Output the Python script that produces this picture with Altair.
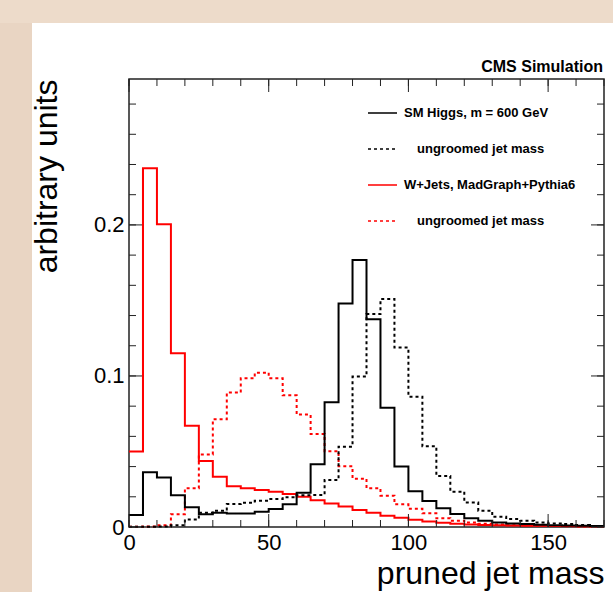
import altair as alt
import pandas as pd

# ---- data ----
bin_edges = [i * 5 for i in range(35)]  # 0..170, bin width 5

w_pruned = [0.050, 0.2375, 0.2005, 0.115, 0.067, 0.0437, 0.0333, 0.027, 0.0256, 0.0245,
            0.0234, 0.0219, 0.0201, 0.0177, 0.0155, 0.0135, 0.0113, 0.0095, 0.0075, 0.0062,
            0.0048, 0.0036, 0.0028, 0.0021, 0.0017, 0.0014, 0.0012, 0.0010, 0.0009, 0.0008,
            0.0007, 0.0006, 0.0005, 0.0005]
w_ungroomed = [0.0002, 0.0004, 0.0012, 0.0084, 0.0256, 0.048, 0.0713, 0.089, 0.0985, 0.1022,
               0.0985, 0.0872, 0.0744, 0.0616, 0.0502, 0.0402, 0.032, 0.0256, 0.0207, 0.015,
               0.0121, 0.0091, 0.0058, 0.0042, 0.0029, 0.0021, 0.0016, 0.0012, 0.0010, 0.0008,
               0.0006, 0.0005, 0.0004, 0.0003]
h_pruned = [0.008, 0.0362, 0.0327, 0.021, 0.013, 0.0084, 0.0095, 0.009, 0.009, 0.0101,
            0.0119, 0.0150, 0.0226, 0.0415, 0.0826, 0.148, 0.1768, 0.1375, 0.079, 0.040,
            0.0236, 0.0172, 0.0124, 0.0086, 0.0058, 0.0042, 0.0030, 0.0024, 0.0020, 0.0015,
            0.0012, 0.0010, 0.0008, 0.0006]
h_ungroomed = [0.0002, 0.0002, 0.0004, 0.0012, 0.0050, 0.0095, 0.0108, 0.0152, 0.0161, 0.0174,
               0.0185, 0.0197, 0.0211, 0.0212, 0.0311, 0.0532, 0.0996, 0.141, 0.151, 0.1188,
               0.0863, 0.0534, 0.0338, 0.0234, 0.0163, 0.0108, 0.0068, 0.0053, 0.0042, 0.0029,
               0.0024, 0.0020, 0.0013, 0.0007]

series_names = ["w_ungroomed", "w_pruned", "h_ungroomed", "h_pruned"]
series_values = [w_ungroomed, w_pruned, h_ungroomed, h_pruned]
series_colors = ["#ff0000", "#ff0000", "#000000", "#000000"]
series_dash = [[3, 3], [1, 0], [3, 3], [1, 0]]

legend_labels = ["SM Higgs, m = 600 GeV", "ungroomed jet mass",
                 "W+Jets, MadGraph+Pythia6", "ungroomed jet mass"]
legend_colors = ["#000000", "#000000", "#ff0000", "#ff0000"]
legend_dashed = [False, True, False, True]

x_major = [0, 50, 100, 150]
x_minor = list(range(0, 171, 10))
y_major = [0, 0.1, 0.2]
y_minor = [round(0.02 * i, 2) for i in range(15)]

X_MAX = 170
Y_MAX = 0.2966

W, H = 475, 448
FONT = "Liberation Sans"

rows = []
for name, vals in zip(series_names, series_values):
    for e, v in zip(bin_edges, vals + [vals[-1]]):
        rows.append({"series": name, "mass": e, "val": v})
hist = pd.DataFrame(rows)

xs = alt.Scale(domain=[0, X_MAX], nice=False, zero=False)
ys = alt.Scale(domain=[0, Y_MAX], nice=False)

x_axis = alt.Axis(values=x_major, format="d", ticks=False, domain=False, grid=False,
                  labelFontSize=22, labelFont=FONT, labelColor="black", labelPadding=5,
                  labelFlush=False,
                  title="pruned jet mass", titleFontSize=32, titleFont=FONT,
                  titleFontWeight="normal", titleColor="black", titleAlign="right",
                  titleBaseline="alphabetic", titleX=W, titleY=56)
y_axis = alt.Axis(values=y_major, format=".1~f", ticks=False, domain=False, grid=False,
                  labelFontSize=22, labelFont=FONT, labelColor="black", labelPadding=5,
                  title="arbitrary units", titleFontSize=32, titleFont=FONT,
                  titleFontWeight="normal", titleColor="black", titleAngle=270,
                  titleAlign="right", titleBaseline="alphabetic", titleX=-73, titleY=0)

one = alt.Data(values=[{}])

# background bands (scanned paper edge)
band_left = alt.Chart(one).mark_rect(color="#e9d5c3").encode(
    x=alt.value(-129), x2=alt.value(-97), y=alt.value(-79), y2=alt.value(H + 65))
band_top = alt.Chart(one).mark_rect(color="#eddbca").encode(
    x=alt.value(-129), x2=alt.value(W + 9), y=alt.value(-79), y2=alt.value(-56))

lines = alt.Chart(hist).mark_line(interpolate="step-after", strokeWidth=2).encode(
    x=alt.X("mass:Q", scale=xs, axis=x_axis, title="pruned jet mass"),
    y=alt.Y("val:Q", scale=ys, axis=y_axis, title="arbitrary units"),
    color=alt.Color("series:N", scale=alt.Scale(domain=series_names, range=series_colors), legend=None),
    strokeDash=alt.StrokeDash("series:N", scale=alt.Scale(domain=series_names, range=series_dash), legend=None),
    detail="series:N",
)

TICK_C = "#222222"
xmaj = pd.DataFrame({"t": x_major})
xmin = pd.DataFrame({"t": x_minor})
ymaj = pd.DataFrame({"t": y_major})
ymin = pd.DataFrame({"t": y_minor})

def xticks(df, length):
    b = alt.Chart(df).mark_rule(color=TICK_C, strokeWidth=1).encode(
        x=alt.X("t:Q", scale=xs, axis=x_axis, title="pruned jet mass"),
        y=alt.value(H), y2=alt.value(H - length))
    t = alt.Chart(df).mark_rule(color=TICK_C, strokeWidth=1).encode(
        x=alt.X("t:Q", scale=xs, axis=x_axis, title="pruned jet mass"),
        y=alt.value(0), y2=alt.value(length))
    return [b, t]

def yticks(df, length):
    l = alt.Chart(df).mark_rule(color=TICK_C, strokeWidth=1).encode(
        y=alt.Y("t:Q", scale=ys, axis=y_axis, title="arbitrary units"),
        x=alt.value(0), x2=alt.value(length))
    r = alt.Chart(df).mark_rule(color=TICK_C, strokeWidth=1).encode(
        y=alt.Y("t:Q", scale=ys, axis=y_axis, title="arbitrary units"),
        x=alt.value(W), x2=alt.value(W - length))
    return [l, r]

tick_layers = xticks(xmaj, 13) + xticks(xmin, 7) + yticks(ymaj, 13) + yticks(ymin, 7)

cms = alt.Chart(one).mark_text(text="CMS Simulation", font=FONT, fontSize=16, fontWeight="bold",
                               align="right", baseline="alphabetic", color="black").encode(
    x=alt.value(W - 1), y=alt.value(-7))

legend_layers = []
leg_y = [34, 70, 106, 142]
leg_tx = [275, 288, 275, 288]
for lab, col, dashed, yy, tx in zip(legend_labels, legend_colors, legend_dashed, leg_y, leg_tx):
    rule = alt.Chart(one).mark_rule(color=col, strokeWidth=1.5,
                                    strokeDash=[3, 3] if dashed else [1, 0]).encode(
        x=alt.value(239), x2=alt.value(268), y=alt.value(yy))
    txt = alt.Chart(one).mark_text(text=lab, font=FONT, fontSize=13, fontWeight="bold",
                                   align="left", baseline="middle", color="black").encode(
        x=alt.value(tx), y=alt.value(yy))
    legend_layers += [rule, txt]

chart = alt.layer(band_left, band_top, lines, *tick_layers, cms, *legend_layers).properties(
    width=W, height=H,
    autosize=alt.AutoSizeParams(type="none"),
    padding={"left": 129, "top": 79, "right": 9, "bottom": 65},
    background="white",
).configure_view(stroke="#222222", strokeWidth=1.5)

chart.save("out.html", embed_options={"renderer": "svg", "actions": False})
